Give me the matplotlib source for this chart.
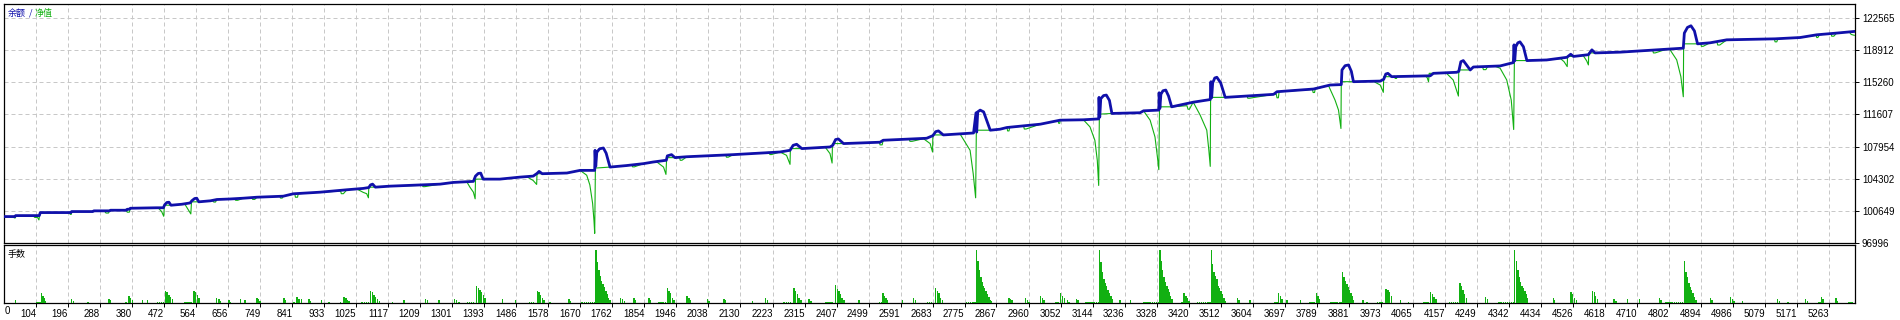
import matplotlib
matplotlib.use('Agg')
import matplotlib.pyplot as plt
import numpy as np

plt.rcParams['font.family'] = ['Liberation Sans', 'Noto Sans CJK SC', 'DejaVu Sans']

# balance curve, (trade number, balance)
balance_points = [
    (0, 100000), (43, 100000), (45, 100110), (113, 100110), (116, 100455), (204, 100455),
    (206, 100570), (267, 100570), (270, 100650), (315, 100650), (318, 100720), (363, 100720),
    (366, 100830), (372, 100830), (375, 100945), (451, 101000), (470, 101000), (474, 101350),
    (480, 101600), (486, 101630), (492, 101290), (523, 101400), (547, 101550), (552, 101800),
    (560, 102050), (566, 102087), (572, 101676), (605, 101790), (624, 101939), (662, 102000),
    (700, 102087), (739, 102200), (815, 102316), (844, 102590), (921, 102772), (998, 103046),
    (1045, 103200), (1061, 103300), (1066, 103600), (1072, 103685), (1080, 103343), (1122, 103457),
    (1266, 103685), (1304, 103880), (1362, 104000), (1368, 104600), (1376, 104900), (1383, 104940),
    (1390, 104256), (1438, 104256), (1496, 104484), (1534, 104600), (1545, 104900), (1551, 105135),
    (1560, 104872), (1631, 104950), (1669, 105250), (1711, 105250), (1712, 107532), (1714, 105700),
    (1717, 107300), (1725, 107700), (1736, 107795), (1744, 107200), (1755, 105626), (1803, 105800),
    (1851, 106014), (1879, 106200), (1917, 106400), (1920, 106900), (1932, 107040), (1942, 106700),
    (1976, 106800), (2110, 107040), (2244, 107340), (2273, 107532), (2282, 108100), (2292, 108217),
    (2307, 107726), (2388, 107910), (2396, 108100), (2404, 108750), (2412, 108822), (2427, 108297),
    (2532, 108450), (2541, 108674), (2666, 108900), (2684, 109200), (2692, 109650), (2700, 109736),
    (2714, 109279), (2801, 109500), (2808, 111790), (2810, 109600), (2813, 111900), (2820, 112098),
    (2830, 111900), (2849, 109816), (2877, 109929), (2897, 110123), (2993, 110500), (3050, 110956),
    (3117, 111000), (3161, 111100), (3162, 113548), (3164, 111300), (3167, 113400), (3175, 113750),
    (3183, 113810), (3192, 113200), (3199, 111721), (3280, 111800), (3290, 112018), (3334, 112100),
    (3335, 114073), (3337, 112300), (3340, 113900), (3346, 114300), (3354, 114380), (3362, 113700),
    (3371, 112474), (3433, 113000), (3472, 113240), (3482, 113300), (3484, 115330), (3486, 113500),
    (3489, 115200), (3495, 115750), (3501, 115833), (3512, 115200), (3525, 113548), (3664, 113890),
    (3674, 114190), (3779, 114496), (3827, 114952), (3859, 115000), (3861, 116664), (3870, 117150),
    (3880, 117230), (3888, 116500), (3894, 115330), (3971, 115400), (3981, 115600), (3987, 116200),
    (3993, 116280), (4004, 115900), (4115, 116000), (4124, 116280), (4191, 116400), (4197, 116500),
    (4203, 117600), (4210, 117730), (4218, 117300), (4230, 116664), (4239, 117000), (4316, 117120),
    (4354, 117500), (4356, 119518), (4358, 117700), (4361, 119300), (4367, 119750), (4373, 119860),
    (4383, 119300), (4393, 117730), (4450, 117800), (4508, 118100), (4519, 118450), (4527, 118200),
    (4570, 118400), (4580, 118947), (4589, 118600), (4661, 118686), (4795, 119028), (4843, 119140),
    (4846, 120853), (4855, 121500), (4865, 121687), (4875, 121100), (4884, 119632), (4920, 119750),
    (4968, 120088), (5107, 120202), (5179, 120350), (5227, 120660), (5284, 120853), (5335, 121040),
]

# equity curve, (trade number, equity)
equity_points = [
    (0, 100000), (38, 100000), (41, 99850), (44, 99850), (45, 100110), (95, 100110),
    (100, 99900), (108, 99900), (112, 99620), (115, 100455), (200, 100455), (202, 100250),
    (205, 100250), (206, 100570), (267, 100570), (270, 100650), (300, 100650), (305, 100400),
    (312, 100400), (316, 100720), (363, 100720), (366, 100500), (372, 100500), (375, 100945),
    (451, 101000), (456, 100950), (465, 100570), (471, 100033), (473, 101290), (492, 101290),
    (523, 101400), (532, 101400), (542, 100763), (549, 100300), (551, 101676), (572, 101676),
    (605, 101790), (612, 101790), (615, 101650), (620, 101650), (624, 101939), (662, 102000),
    (675, 102000), (678, 101850), (684, 101850), (700, 102087), (725, 102100), (727, 101950),
    (733, 101950), (739, 102200), (805, 102300), (807, 102100), (812, 102100), (815, 102316),
    (844, 102590), (848, 102590), (850, 102200), (856, 102200), (858, 102590), (921, 102772),
    (980, 102900), (982, 102600), (988, 102600), (998, 103046), (1026, 103150), (1045, 102750),
    (1055, 102600), (1060, 102133), (1061, 103343), (1080, 103343), (1122, 103457), (1215, 103550),
    (1217, 103400), (1222, 103400), (1266, 103685), (1304, 103880), (1343, 103950), (1352, 103343),
    (1362, 102772), (1367, 102018), (1368, 104256), (1438, 104256), (1496, 104484), (1515, 104550),
    (1534, 104100), (1544, 103650), (1545, 104872), (1560, 104872), (1631, 104950), (1669, 105250),
    (1688, 104700), (1697, 103600), (1705, 101500), (1709, 99500), (1711, 98092), (1713, 105512),
    (1755, 105626), (1803, 105800), (1818, 105850), (1820, 105650), (1825, 105650), (1851, 106014),
    (1879, 106200), (1890, 106200), (1909, 105626), (1916, 104793), (1918, 106700), (1942, 106700),
    (1955, 106750), (1957, 106400), (1962, 106400), (1976, 106800), (2088, 107000), (2090, 106750),
    (2095, 106750), (2110, 107040), (2213, 107300), (2215, 107050), (2220, 107050), (2244, 107340),
    (2263, 106960), (2273, 105934), (2274, 107726), (2307, 107726), (2374, 107900), (2388, 107155),
    (2394, 106082), (2395, 108297), (2427, 108297), (2530, 108450), (2532, 108150), (2538, 108150),
    (2541, 108674), (2616, 108800), (2618, 108550), (2624, 108550), (2657, 108850), (2676, 108297),
    (2683, 107338), (2684, 109279), (2714, 109279), (2762, 109400), (2791, 107532), (2800, 104872),
    (2805, 103000), (2807, 102133), (2809, 109816), (2849, 109816), (2877, 109929), (2897, 110123),
    (2899, 109735), (2903, 109735), (2905, 110123), (2945, 110300), (2947, 109950), (2952, 109950),
    (2993, 110500), (3044, 110900), (3046, 110600), (3049, 110600), (3050, 110956), (3117, 111000),
    (3136, 110192), (3150, 108674), (3157, 106390), (3161, 103537), (3163, 111640), (3199, 111721),
    (3280, 111800), (3290, 112018), (3309, 110956), (3323, 109050), (3330, 106766), (3334, 105330),
    (3336, 112474), (3371, 112474), (3415, 112600), (3418, 112200), (3422, 112200), (3433, 113000),
    (3453, 111530), (3472, 109816), (3478, 107532), (3482, 105706), (3483, 113548), (3525, 113548),
    (3588, 113700), (3590, 113450), (3595, 113450), (3664, 113890), (3672, 113900), (3674, 113500),
    (3678, 113500), (3680, 114190), (3776, 114450), (3778, 114100), (3782, 114100), (3784, 114496),
    (3822, 114900), (3841, 113240), (3851, 112100), (3858, 110010), (3859, 115330), (3894, 115330),
    (3951, 115380), (3971, 114952), (3980, 114120), (3981, 115900), (4004, 115900), (4012, 115950),
    (4014, 115700), (4018, 115700), (4020, 115950), (4100, 116000), (4106, 115800), (4110, 115330),
    (4112, 116280), (4162, 116280), (4181, 115523), (4196, 113696), (4197, 116664), (4230, 116664),
    (4239, 117000), (4265, 117050), (4268, 116700), (4275, 116700), (4280, 117050), (4300, 117100),
    (4316, 116858), (4335, 115523), (4348, 113240), (4355, 109895), (4357, 117730), (4393, 117730),
    (4450, 117800), (4490, 117950), (4500, 117600), (4509, 117044), (4510, 118200), (4527, 118200),
    (4555, 118300), (4565, 117700), (4570, 117234), (4571, 118600), (4589, 118600), (4661, 118686),
    (4755, 118900), (4757, 118600), (4762, 118600), (4795, 119028), (4805, 118947), (4824, 117808),
    (4836, 115900), (4843, 113620), (4844, 119632), (4884, 119632), (4893, 119650), (4895, 119350),
    (4900, 119350), (4920, 119750), (4940, 119800), (4942, 119500), (4948, 119500), (4968, 120088),
    (5105, 120202), (5107, 119860), (5112, 119860), (5115, 120202), (5179, 120350), (5225, 120600),
    (5227, 120350), (5230, 120350), (5235, 120660), (5268, 120800), (5270, 120500), (5276, 120500),
    (5284, 120853), (5320, 121000), (5326, 120700), (5335, 120600),
]

# lot size per trade, (trade number, lots)
lot_points = [
    (43, 0.15), (104, 0.05), (109, 0.05), (113, 0.05), (118, 0.47), (122, 0.35), (126, 0.23),
    (129, 0.1), (204, 0.2), (209, 0.1), (251, 0.05), (312, 0.2), (316, 0.13), (361, 0.05),
    (369, 0.32), (374, 0.23), (379, 0.13), (408, 0.17), (422, 0.17), (451, 0.05), (457, 0.05),
    (463, 0.05), (469, 0.05), (475, 0.6), (479, 0.52), (484, 0.38), (489, 0.3), (494, 0.18),
    (530, 0.05), (536, 0.05), (542, 0.05), (548, 0.05), (556, 0.6), (561, 0.52), (566, 0.4),
    (571, 0.27), (621, 0.25), (628, 0.18), (633, 0.1), (657, 0.15), (662, 0.07), (690, 0.2),
    (703, 0.15), (737, 0.25), (741, 0.18), (746, 0.1), (815, 0.23), (820, 0.17), (844, 0.05),
    (853, 0.3), (858, 0.2), (865, 0.2), (887, 0.2), (892, 0.1), (923, 0.15), (945, 0.07),
    (978, 0.05), (988, 0.3), (993, 0.23), (997, 0.17), (1002, 0.1), (1040, 0.05), (1046, 0.05),
    (1052, 0.05), (1058, 0.05), (1064, 0.6), (1069, 0.52), (1074, 0.4), (1079, 0.3), (1084, 0.22),
    (1089, 0.1), (1127, 0.05), (1160, 0.17), (1223, 0.2), (1228, 0.13), (1261, 0.15), (1306, 0.2),
    (1311, 0.13), (1319, 0.05), (1343, 0.05), (1349, 0.05), (1355, 0.05), (1361, 0.05), (1369, 0.85),
    (1374, 0.72), (1379, 0.63), (1384, 0.52), (1389, 0.4), (1393, 0.27), (1443, 0.18), (1482, 0.13),
    (1521, 0.05), (1527, 0.05), (1533, 0.05), (1544, 0.6), (1549, 0.52), (1553, 0.4), (1558, 0.27),
    (1563, 0.15), (1580, 0.05), (1635, 0.18), (1640, 0.1), (1673, 0.05), (1679, 0.05), (1685, 0.05),
    (1691, 0.05), (1697, 0.05), (1703, 0.05), (1709, 0.05), (1713, 2.6), (1717, 2.0), (1721, 1.6),
    (1725, 1.32), (1729, 1.1), (1733, 0.93), (1737, 0.77), (1741, 0.6), (1745, 0.43), (1749, 0.27),
    (1753, 0.13), (1784, 0.27), (1789, 0.18), (1794, 0.1), (1822, 0.23), (1827, 0.15), (1865, 0.27),
    (1870, 0.13), (1894, 0.05), (1900, 0.05), (1906, 0.05), (1912, 0.05), (1918, 0.72), (1923, 0.6),
    (1927, 0.47), (1932, 0.27), (1937, 0.13), (1975, 0.33), (1980, 0.23), (1985, 0.13), (2033, 0.2),
    (2038, 0.1), (2081, 0.2), (2086, 0.13), (2163, 0.1), (2201, 0.27), (2206, 0.13), (2254, 0.05),
    (2260, 0.05), (2266, 0.05), (2272, 0.05), (2282, 0.72), (2287, 0.6), (2292, 0.43), (2297, 0.27),
    (2302, 0.13), (2326, 0.22), (2331, 0.1), (2374, 0.05), (2380, 0.05), (2386, 0.05), (2392, 0.05),
    (2402, 0.88), (2407, 0.68), (2412, 0.57), (2417, 0.43), (2421, 0.27), (2426, 0.13), (2469, 0.15),
    (2529, 0.05), (2535, 0.05), (2539, 0.47), (2543, 0.35), (2547, 0.23), (2551, 0.13), (2594, 0.13),
    (2627, 0.27), (2632, 0.13), (2666, 0.05), (2672, 0.05), (2678, 0.05), (2690, 0.72), (2695, 0.6),
    (2700, 0.47), (2704, 0.27), (2709, 0.13), (2779, 0.05), (2785, 0.05), (2791, 0.05), (2797, 0.05),
    (2803, 0.05), (2808, 2.6), (2812, 2.07), (2816, 1.6), (2820, 1.27), (2824, 1.02), (2828, 0.85),
    (2831, 0.72), (2835, 0.57), (2839, 0.43), (2843, 0.3), (2847, 0.17), (2850, 0.1), (2901, 0.25),
    (2905, 0.2), (2910, 0.15), (2949, 0.25), (2954, 0.17), (2958, 0.07), (2992, 0.32), (2997, 0.23),
    (3002, 0.13), (3036, 0.05), (3042, 0.05), (3050, 0.47), (3055, 0.35), (3060, 0.27), (3069, 0.13),
    (3074, 0.07), (3096, 0.2), (3100, 0.13), (3122, 0.05), (3128, 0.05), (3134, 0.05), (3140, 0.05),
    (3146, 0.05), (3152, 0.05), (3158, 0.05), (3162, 2.6), (3166, 2.02), (3170, 1.52), (3174, 1.18),
    (3178, 0.98), (3182, 0.82), (3186, 0.63), (3190, 0.5), (3194, 0.35), (3198, 0.18), (3220, 0.15),
    (3250, 0.15), (3289, 0.05), (3295, 0.05), (3301, 0.05), (3307, 0.05), (3313, 0.05), (3319, 0.05),
    (3325, 0.05), (3331, 0.05), (3335, 2.6), (3339, 2.05), (3343, 1.6), (3347, 1.27), (3351, 1.02),
    (3355, 0.85), (3358, 0.68), (3362, 0.52), (3366, 0.35), (3370, 0.18), (3397, 0.05), (3401, 0.05),
    (3405, 0.47), (3410, 0.35), (3414, 0.23), (3419, 0.1), (3443, 0.05), (3449, 0.05), (3455, 0.05),
    (3461, 0.05), (3467, 0.05), (3473, 0.05), (3479, 0.05), (3483, 2.6), (3487, 1.93), (3491, 1.52),
    (3495, 1.35), (3499, 1.18), (3503, 0.85), (3507, 0.73), (3511, 0.6), (3515, 0.43), (3519, 0.27),
    (3522, 0.1), (3558, 0.25), (3563, 0.17), (3594, 0.15), (3666, 0.05), (3672, 0.05), (3677, 0.47),
    (3682, 0.35), (3686, 0.18), (3701, 0.15), (3740, 0.15), (3767, 0.05), (3773, 0.05), (3779, 0.05),
    (3785, 0.47), (3790, 0.33), (3795, 0.18), (3827, 0.05), (3833, 0.05), (3839, 0.05), (3845, 0.05),
    (3851, 0.05), (3856, 0.05), (3860, 1.5), (3865, 1.27), (3869, 1.1), (3873, 0.93), (3877, 0.77),
    (3881, 0.63), (3885, 0.48), (3889, 0.33), (3893, 0.17), (3919, 0.15), (3931, 0.07), (3962, 0.05),
    (3968, 0.05), (3974, 0.05), (3986, 0.68), (3991, 0.63), (3996, 0.52), (4001, 0.35), (4027, 0.13),
    (4051, 0.07), (4095, 0.05), (4101, 0.05), (4107, 0.05), (4114, 0.55), (4119, 0.43), (4124, 0.3),
    (4129, 0.18), (4168, 0.05), (4174, 0.05), (4180, 0.05), (4186, 0.05), (4192, 0.05), (4198, 1.0),
    (4203, 0.85), (4207, 0.63), (4212, 0.43), (4217, 0.27), (4272, 0.3), (4277, 0.18), (4311, 0.05),
    (4317, 0.05), (4323, 0.05), (4329, 0.05), (4335, 0.05), (4341, 0.05), (4347, 0.05), (4352, 0.05),
    (4356, 2.6), (4361, 2.05), (4365, 1.63), (4369, 1.27), (4373, 1.02), (4377, 0.85), (4381, 0.73),
    (4385, 0.6), (4389, 0.43), (4393, 0.23), (4467, 0.27), (4471, 0.15), (4518, 0.55), (4523, 0.43),
    (4528, 0.27), (4533, 0.13), (4580, 0.6), (4585, 0.52), (4589, 0.35), (4594, 0.18), (4642, 0.18),
    (4647, 0.1), (4681, 0.18), (4715, 0.18), (4772, 0.23), (4777, 0.15), (4791, 0.05), (4797, 0.05),
    (4803, 0.05), (4809, 0.05), (4815, 0.05), (4821, 0.05), (4827, 0.05), (4833, 0.05), (4839, 0.05),
    (4844, 2.05), (4849, 1.52), (4853, 1.27), (4857, 0.97), (4861, 0.8), (4865, 0.63), (4869, 0.47),
    (4873, 0.3), (4877, 0.15), (4919, 0.27), (4924, 0.13), (4977, 0.3), (4982, 0.22), (4987, 0.1),
    (5011, 0.1), (5112, 0.22), (5117, 0.1), (5142, 0.05), (5193, 0.22), (5198, 0.1), (5230, 0.05),
    (5234, 0.05), (5238, 0.3), (5243, 0.18), (5280, 0.23), (5284, 0.1), (5318, 0.05), (5323, 0.05),
    (5328, 0.05),
]

x_ticks = [104, 196, 288, 380, 472, 564, 656, 749, 841, 933, 1025, 1117, 1209, 1301, 1393,
           1486, 1578, 1670, 1762, 1854, 1946, 2038, 2130, 2223, 2315, 2407, 2499, 2591, 2683,
           2775, 2867, 2960, 3052, 3144, 3236, 3328, 3420, 3512, 3604, 3697, 3789, 3881, 3973,
           4065, 4157, 4249, 4342, 4434, 4526, 4618, 4710, 4802, 4894, 4986, 5079, 5171, 5263]
y_ticks = [96996, 100649, 104302, 107954, 111607, 115260, 118912, 122565]

blue = '#1010aa'
green = '#12b012'
grid_kw = dict(color='#c8c8c8', linestyle=(0, (4, 3)), linewidth=0.72)

bal_x, bal_y = zip(*balance_points)
eq_x, eq_y = zip(*equity_points)
lot_x, lot_y = zip(*lot_points)

W, H = 1900, 320
fig = plt.figure(figsize=(W / 100, H / 100), dpi=100)
ax = fig.add_axes([4 / W, 1 - 243 / H, 1851 / W, 239 / H])
ax2 = fig.add_axes([4 / W, 1 - 303 / H, 1851 / W, 58 / H])

# top panel: balance / equity
ax.plot(eq_x, eq_y, color=green, linewidth=0.8, zorder=3)
ax.plot(bal_x, bal_y, color=blue, linewidth=2.0, zorder=4)
ax.set_xlim(11.5, 5337)
ax.set_ylim(96996, 124160)
ax.set_xticks(x_ticks)
ax.set_yticks(y_ticks)
ax.set_yticklabels([str(v) for v in y_ticks])
ax.yaxis.tick_right()
ax.tick_params(axis='y', direction='out', length=3, pad=2, labelsize=7, width=0.7)
ax.tick_params(axis='x', length=0, labelbottom=False)
ax.set_axisbelow(True)
ax.grid(True, **grid_kw)
for s in ax.spines.values():
    s.set_linewidth(0.9)

# lower panel: lots
ax2.bar(lot_x, lot_y, width=4.0, color=green, linewidth=0, align='edge', antialiased=False, zorder=3)
ax2.set_xlim(11.5, 5337)
ax2.set_ylim(0, 2.85)
ax2.set_yticks([])
ax2.set_xticks(x_ticks)
ax2.set_xticklabels([str(v) for v in x_ticks])
for lbl in ax2.get_xticklabels():
    lbl.set_ha('right')
ax2.tick_params(axis='x', direction='out', length=3, pad=1, labelsize=7, width=0.7)
ax2.set_axisbelow(True)
ax2.grid(True, axis='x', **grid_kw)
for s in ax2.spines.values():
    s.set_linewidth(0.9)

fig.text(5 / W, 1 - 311 / H, '0', ha='left', va='center', fontsize=7)

cjk = ['Noto Sans CJK SC', 'DejaVu Sans']
fig.text(8 / W, 1 - 13 / H, '余额', color=blue, fontsize=6.5, va='center', family=cjk)
fig.text(29 / W, 1 - 13 / H, '/', color=blue, fontsize=6.5, va='center', family=cjk)
fig.text(35 / W, 1 - 13 / H, '净值', color=green, fontsize=6.5, va='center', family=cjk)
fig.text(8 / W, 1 - 255 / H, '手数', color='black', fontsize=6.5, va='center', family=cjk)

fig.savefig('out.png', dpi=100, facecolor='white')
